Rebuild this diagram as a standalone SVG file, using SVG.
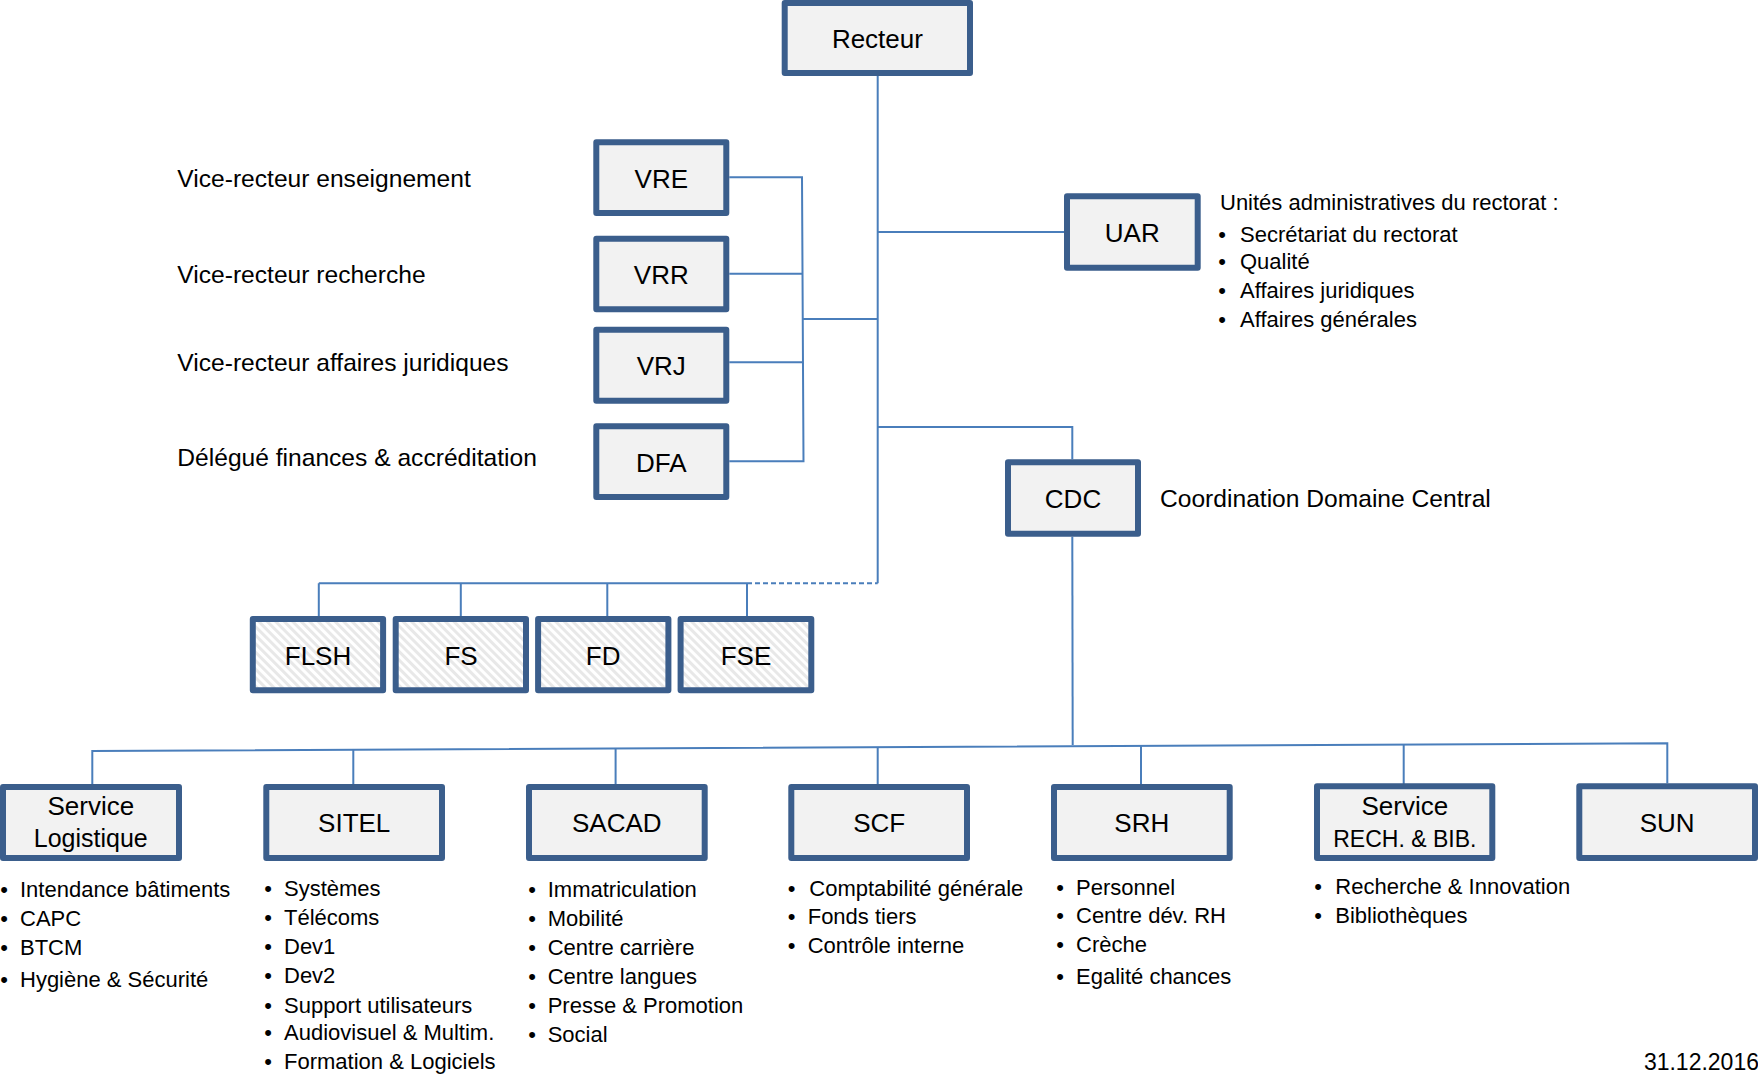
<svg xmlns="http://www.w3.org/2000/svg" width="1758" height="1076" viewBox="0 0 1758 1076">
<defs>
<pattern id="hatch" patternUnits="userSpaceOnUse" width="6" height="6" patternTransform="rotate(-45)">
<rect width="6" height="6" fill="#ffffff"/>
<rect width="3" height="6" fill="#e8e8e8"/>
</pattern>
</defs>
<style>
.box{fill:#f2f2f2;stroke:#3b5e8c;stroke-width:6;stroke-linejoin:round}
.fac{fill:url(#hatch);stroke:#3b5e8c;stroke-width:6;stroke-linejoin:round}
.lbl{font-family:"Liberation Sans",Arial,sans-serif;font-size:26px;fill:#000;text-anchor:middle}
.side{font-family:"Liberation Sans",Arial,sans-serif;font-size:24.6px;fill:#000}
.bl{font-family:"Liberation Sans",Arial,sans-serif;font-size:22px;fill:#000}
.dot{text-anchor:middle}
.con{fill:none;stroke:#4a7ebb;stroke-width:2}
.dash{stroke-dasharray:5 3}
</style>
<rect width="1758" height="1076" fill="#ffffff"/>

<g id="connectors">
<path class="con" d="M877.7 76 V583.3"/>
<path class="con" d="M747 583.3 H318.8 M318.8 583.3 V616 M460.8 583.3 V616 M607.3 583.3 V616 M747 583.3 V616"/>
<path class="con dash" d="M747 583.3 H877.7"/>
<path class="con" d="M729.3 177.3 H802 L803.5 461.3 H729.3 M729.3 273.7 H802.6 M729.3 362.3 H803 M803 319 H877.7"/>
<path class="con" d="M877.7 232 H1064"/>
<path class="con" d="M877.7 427 H1072.3 V459.3"/>
<path class="con" d="M1072.3 536.7 L1072.7 745"/>
<path class="con" d="M92.3 784 V751 L1667.3 743.3 V783.3"/>
<path class="con" d="M353.3 749.7 V784 M615.6 748.4 V784 M877.7 747.2 V784 M1141 745.9 V784 M1403.7 744.6 V784"/>
</g>

<g id="recteur">
<rect class="box" x="784.7" y="3" width="185.3" height="70"/>
<text class="lbl" x="877.4" y="48">Recteur</text>
</g>

<g id="vre">
<rect class="box" x="596.3" y="142.3" width="130" height="70.7"/>
<text class="lbl" x="661.3" y="188">VRE</text>
<text class="side" x="177.3" y="187">Vice-recteur enseignement</text>
</g>
<g id="vrr">
<rect class="box" x="596.3" y="238.7" width="130" height="70.6"/>
<text class="lbl" x="661.3" y="284">VRR</text>
<text class="side" x="177.3" y="283.3">Vice-recteur recherche</text>
</g>
<g id="vrj">
<rect class="box" x="596.3" y="329.7" width="130" height="71"/>
<text class="lbl" x="661.3" y="375">VRJ</text>
<text class="side" x="177.3" y="371">Vice-recteur affaires juridiques</text>
</g>
<g id="dfa">
<rect class="box" x="596.3" y="426.3" width="130" height="70.7"/>
<text class="lbl" x="661.3" y="472">DFA</text>
<text class="side" x="177.3" y="466">Délégué finances &amp; accréditation</text>
</g>

<g id="uar">
<rect class="box" x="1067" y="196.3" width="130.7" height="71.4"/>
<text class="lbl" x="1132.3" y="242">UAR</text>
<text class="bl" x="1220" y="210">Unités administratives du rectorat :</text>
<text class="bl dot" x="1222" y="241.7">•</text><text class="bl" x="1240" y="241.7">Secrétariat du rectorat</text>
<text class="bl dot" x="1222" y="269.3">•</text><text class="bl" x="1240" y="269.3">Qualité</text>
<text class="bl dot" x="1222" y="298.3">•</text><text class="bl" x="1240" y="298.3">Affaires juridiques</text>
<text class="bl dot" x="1222" y="326.7">•</text><text class="bl" x="1240" y="326.7">Affaires générales</text>
</g>

<g id="cdc">
<rect class="box" x="1008" y="462.3" width="130" height="71.4"/>
<text class="lbl" x="1073" y="508">CDC</text>
<text class="side" x="1160" y="507">Coordination Domaine Central</text>
</g>

<g id="flsh">
<rect class="fac" x="252.8" y="619" width="130.3" height="71.3"/>
<text class="lbl" x="318" y="665">FLSH</text>
</g>
<g id="fs">
<rect class="fac" x="395.7" y="619" width="130.3" height="71.3"/>
<text class="lbl" x="461" y="665">FS</text>
</g>
<g id="fd">
<rect class="fac" x="538.1" y="619" width="130.3" height="71.3"/>
<text class="lbl" x="603.2" y="665">FD</text>
</g>
<g id="fse">
<rect class="fac" x="680.6" y="619" width="130.7" height="71.3"/>
<text class="lbl" x="746" y="665">FSE</text>
</g>

<g id="logistique">
<rect class="box" x="3" y="787" width="176" height="71"/>
<text class="lbl" x="90.8" y="815">Service</text>
<text class="lbl" x="90.8" y="847.3" style="font-size:25px">Logistique</text>
<text class="bl dot" x="4" y="896.7">•</text><text class="bl" x="20" y="896.7">Intendance bâtiments</text>
<text class="bl dot" x="4" y="926">•</text><text class="bl" x="20" y="926">CAPC</text>
<text class="bl dot" x="4" y="955">•</text><text class="bl" x="20" y="955">BTCM</text>
<text class="bl dot" x="4" y="987.3">•</text><text class="bl" x="20" y="987.3">Hygiène &amp; Sécurité</text>
</g>

<g id="sitel">
<rect class="box" x="266.3" y="787" width="175.7" height="71"/>
<text class="lbl" x="354.2" y="831.7">SITEL</text>
<text class="bl dot" x="268" y="896">•</text><text class="bl" x="284" y="896">Systèmes</text>
<text class="bl dot" x="268" y="925">•</text><text class="bl" x="284" y="925">Télécoms</text>
<text class="bl dot" x="268" y="954">•</text><text class="bl" x="284" y="954">Dev1</text>
<text class="bl dot" x="268" y="982.7">•</text><text class="bl" x="284" y="982.7">Dev2</text>
<text class="bl dot" x="268" y="1012.7">•</text><text class="bl" x="284" y="1012.7">Support utilisateurs</text>
<text class="bl dot" x="268" y="1040">•</text><text class="bl" x="284" y="1040">Audiovisuel &amp; Multim.</text>
<text class="bl dot" x="268" y="1069">•</text><text class="bl" x="284" y="1069">Formation &amp; Logiciels</text>
</g>

<g id="sacad">
<rect class="box" x="529" y="787" width="175.7" height="71"/>
<text class="lbl" x="616.8" y="831.7">SACAD</text>
<text class="bl dot" x="532.2" y="896.7">•</text><text class="bl" x="547.7" y="896.7">Immatriculation</text>
<text class="bl dot" x="532.2" y="926">•</text><text class="bl" x="547.7" y="926">Mobilité</text>
<text class="bl dot" x="532.2" y="955">•</text><text class="bl" x="547.7" y="955">Centre carrière</text>
<text class="bl dot" x="532.2" y="984">•</text><text class="bl" x="547.7" y="984">Centre langues</text>
<text class="bl dot" x="532.2" y="1012.7">•</text><text class="bl" x="547.7" y="1012.7">Presse &amp; Promotion</text>
<text class="bl dot" x="532.2" y="1041.7">•</text><text class="bl" x="547.7" y="1041.7">Social</text>
</g>

<g id="scf">
<rect class="box" x="791.3" y="787" width="175.7" height="71"/>
<text class="lbl" x="879.2" y="831.7">SCF</text>
<text class="bl dot" x="791.7" y="895.7">•</text><text class="bl" x="809.3" y="895.7">Comptabilité générale</text>
<text class="bl dot" x="791.7" y="924.3">•</text><text class="bl" x="807.7" y="924.3">Fonds tiers</text>
<text class="bl dot" x="791.7" y="952.7">•</text><text class="bl" x="807.7" y="952.7">Contrôle interne</text>
</g>

<g id="srh">
<rect class="box" x="1054" y="787" width="175.7" height="71"/>
<text class="lbl" x="1141.8" y="831.7">SRH</text>
<text class="bl dot" x="1060" y="895">•</text><text class="bl" x="1076" y="895">Personnel</text>
<text class="bl dot" x="1060" y="923.3">•</text><text class="bl" x="1076" y="923.3">Centre dév. RH</text>
<text class="bl dot" x="1060" y="951.7">•</text><text class="bl" x="1076" y="951.7">Crèche</text>
<text class="bl dot" x="1060" y="984">•</text><text class="bl" x="1076" y="984">Egalité chances</text>
</g>

<g id="rechbib">
<rect class="box" x="1317" y="786.3" width="175.3" height="71.7"/>
<text class="lbl" x="1404.8" y="815">Service</text>
<text class="lbl" x="1404.8" y="847.3" style="font-size:23px">RECH. &amp; BIB.</text>
<text class="bl dot" x="1318" y="894">•</text><text class="bl" x="1335.3" y="894">Recherche &amp; Innovation</text>
<text class="bl dot" x="1318" y="922.7">•</text><text class="bl" x="1335.3" y="922.7">Bibliothèques</text>
</g>

<g id="sun">
<rect class="box" x="1579.3" y="786.3" width="175.7" height="71.7"/>
<text class="lbl" x="1667.2" y="831.7">SUN</text>
</g>

<text class="bl" x="1759" y="1070" text-anchor="end" style="font-size:23px">31.12.2016</text>
</svg>
